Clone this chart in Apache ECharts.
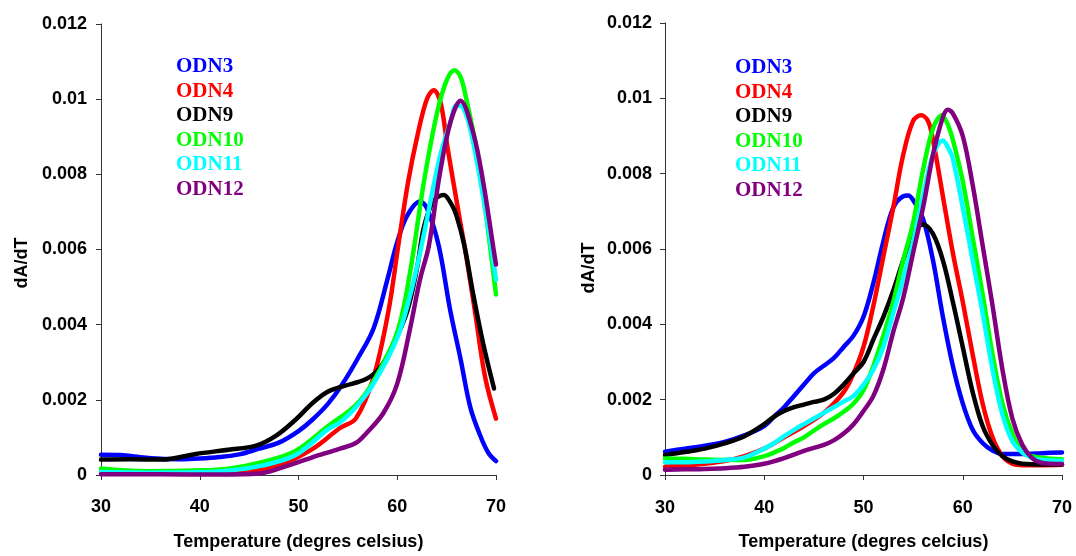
<!DOCTYPE html>
<html>
<head>
<meta charset="utf-8">
<script src="https://cdn.jsdelivr.net/npm/echarts@6/dist/echarts.min.js"></script>
<style>
html,body{margin:0;padding:0;background:#fff;}
#chart{width:1076px;height:556px;}
</style>
</head>
<body>
<div id="chart"></div>
<script>
// ---------- DATA ----------
const seriesNames = ['ODN3', 'ODN4', 'ODN9', 'ODN10', 'ODN11', 'ODN12'];
const seriesColors = ['#0000ff', '#ff0000', '#000000', '#00ff00', '#00ffff', '#800080'];
const xTickLabels = ['30', '40', '50', '60', '70'];
const yTickLabels = ['0', '0.002', '0.004', '0.006', '0.008', '0.01', '0.012'];
const leftXTitle = 'Temperature (degres celsius)';
const rightXTitle = 'Temperature (degres celcius)';
const yTitle = 'dA/dT';

// Left panel: [temperature, dA/dT]
const L_ODN3 = [[30,0.00054],[32,0.00053],[34,0.00047],[36,0.00043],[38,0.00042],[40,0.00044],[42,0.00048],[44,0.00055],[46,0.0007],[48,0.00086],[50,0.00117],[51.4,0.00147],[53,0.0019],[54.4,0.0024],[56,0.0031],[57.6,0.0039],[59,0.0052],[60,0.0062],[61,0.0069],[62.3,0.00728],[63,0.0071],[64.2,0.0061],[65.35,0.0044],[66.4,0.0031],[67.4,0.0018],[68.4,0.00105],[69.2,0.0006],[70,0.00037]];
const L_ODN4 = [[30,0.00005],[36,0.00003],[42,0.00003],[44.6,0.00008],[48,0.00026],[51.4,0.00069],[54.2,0.00125],[55.8,0.0015],[57.6,0.0026],[59.1,0.00435],[60.1,0.0061],[61.1,0.0078],[62.1,0.0091],[63,0.0100],[63.7,0.01024],[64.4,0.0099],[65.1,0.0087],[66.2,0.0070],[67,0.0058],[67.9,0.0043],[68.9,0.0026],[70,0.0015]];
const L_ODN9 = [[30,0.00041],[33,0.00042],[36.2,0.00041],[39.6,0.00056],[42.9,0.00067],[45.7,0.00078],[47.7,0.00104],[49.7,0.00147],[51.4,0.00191],[53,0.00222],[54.5,0.00236],[56.9,0.00256],[58.3,0.00287],[59.6,0.00348],[61,0.00435],[62,0.0055],[62.7,0.0066],[63.7,0.0073],[64.7,0.00745],[65.5,0.0072],[66,0.0069],[66.8,0.0061],[67.7,0.0048],[68.7,0.0035],[69.8,0.0023]];
const L_ODN10 = [[30,0.00017],[34.5,0.0001],[39.6,0.00012],[42.9,0.00017],[46.3,0.00034],[49.7,0.00064],[53,0.0013],[55.8,0.00186],[57.6,0.0025],[60,0.0038],[61.3,0.0054],[62.7,0.0078],[64,0.0096],[65,0.0105],[65.8,0.01077],[66.4,0.0106],[67,0.0100],[68,0.0087],[69,0.0069],[70,0.0048]];
const L_ODN11 = [[30,0.00008],[35,0.00006],[39.6,0.00007],[43,0.00012],[46.3,0.00025],[49.7,0.00053],[53,0.00122],[54.2,0.0014],[55.8,0.0018],[57.6,0.00243],[60,0.00365],[61.3,0.00478],[62.3,0.0059],[63,0.0068],[64.3,0.00845],[65.4,0.0094],[66,0.00984],[66.6,0.0098],[67.4,0.0092],[68.7,0.0074],[70,0.0052]];
const L_ODN12 = [[30,0.00002],[36,0.00002],[42,0.00001],[46,0.00004],[48,0.00017],[51.4,0.00047],[54.2,0.0007],[55.8,0.00085],[56.9,0.00112],[58.6,0.00165],[60,0.00243],[61.3,0.0039],[62.3,0.0052],[63.2,0.0061],[64.3,0.008],[65.4,0.0094],[66.4,0.00996],[67.7,0.0091],[68.7,0.0078],[69.7,0.0061],[70,0.0056]];

// Right panel: [temperature, dA/dT]
const R_ODN3 = [[30,0.00062],[32,0.0007],[34,0.00078],[36,0.00088],[38,0.00105],[40,0.0013],[41,0.00155],[42,0.0018],[43,0.0021],[44,0.0024],[45,0.0027],[46,0.0029],[47,0.0031],[48,0.0034],[49,0.0037],[50,0.0042],[51,0.0051],[52,0.0062],[53,0.0071],[54,0.0074],[54.5,0.00742],[55,0.0073],[56,0.0068],[57,0.0057],[58,0.0042],[59,0.0029],[60,0.0019],[61,0.0012],[62,0.00085],[63,0.00065],[64,0.00056],[66,0.00056],[68,0.00058],[70,0.0006]];
const R_ODN4 = [[30,0.00022],[32,0.00025],[34,0.0003],[36,0.00037],[38,0.0005],[40,0.0007],[42,0.001],[44,0.0013],[46,0.00165],[48,0.0022],[49,0.0027],[50,0.0034],[51,0.0045],[52,0.0058],[53,0.0071],[54,0.0085],[55,0.0094],[55.8,0.00955],[56.5,0.0094],[57,0.0089],[58,0.0074],[59,0.0059],[60,0.0046],[61,0.0032],[62,0.0019],[63,0.001],[64,0.0005],[65,0.0003],[66,0.00026],[68,0.00026],[70,0.00027]];
const R_ODN9 = [[30,0.00053],[32,0.00061],[34,0.0007],[36,0.00084],[38,0.00103],[40,0.00135],[41,0.00155],[42,0.0017],[43,0.0018],[44,0.00187],[45,0.00194],[46,0.002],[47,0.00215],[48,0.0024],[49,0.0027],[50,0.003],[51,0.0036],[52,0.0042],[53,0.0049],[54,0.0057],[55,0.0064],[56,0.00665],[57,0.0064],[58,0.0057],[59,0.0046],[60,0.0034],[61,0.0022],[62,0.0013],[63,0.0008],[64,0.0005],[65,0.00036],[66,0.0003],[68,0.00028],[70,0.00028]];
const R_ODN10 = [[30,0.00044],[32,0.00043],[34,0.00041],[36,0.0004],[38,0.0004],[40,0.0005],[41,0.0006],[42,0.00072],[43,0.00087],[44,0.001],[45,0.00118],[46,0.00135],[47,0.0015],[48,0.00168],[49,0.0019],[50,0.00225],[51,0.0029],[52,0.0037],[53,0.0046],[54,0.0057],[55,0.0067],[56,0.0081],[57,0.0092],[57.9,0.00955],[58.5,0.0093],[59,0.0089],[60,0.0078],[61,0.0063],[62,0.0048],[63,0.0032],[64,0.0019],[65,0.0011],[66,0.0006],[67,0.0005],[68,0.00045],[70,0.00042]];
const R_ODN11 = [[30,0.00034],[32,0.00034],[34,0.00036],[36,0.0004],[38,0.00047],[40,0.0007],[41,0.00085],[42,0.00103],[43,0.0012],[44,0.00135],[45,0.0015],[46,0.00165],[47,0.0018],[48,0.00195],[49,0.0021],[50,0.0024],[51,0.0028],[52,0.0034],[53,0.0043],[54,0.0052],[55,0.0062],[56,0.0074],[57,0.0085],[58,0.00888],[58.5,0.0087],[59,0.0084],[60,0.0071],[61,0.0057],[62,0.0043],[63,0.0028],[64,0.0016],[65,0.0009],[66,0.0006],[67,0.00045],[68,0.0004],[70,0.00038]];
const R_ODN12 = [[30,0.00014],[32,0.00015],[34,0.00016],[36,0.00018],[38,0.00022],[40,0.0003],[42,0.00045],[44,0.00064],[46,0.0008],[47,0.00092],[48,0.0011],[49,0.00135],[50,0.0017],[51,0.0021],[52,0.0028],[53,0.0038],[54,0.0047],[55,0.0059],[56,0.0071],[57,0.0085],[58,0.0095],[58.5,0.0097],[59,0.0096],[60,0.0090],[61,0.0077],[62,0.0061],[63,0.0045],[64,0.0028],[65,0.0015],[66,0.0008],[67,0.00045],[68,0.00032],[70,0.00029]];

const leftData = [L_ODN3, L_ODN4, L_ODN9, L_ODN10, L_ODN11, L_ODN12];
const rightData = [R_ODN3, R_ODN4, R_ODN9, R_ODN10, R_ODN11, R_ODN12];

// ---------- CHART ----------
const sansBold = {fontFamily: 'Liberation Sans, Arial, sans-serif', fontWeight: 'bold', fontSize: 18, color: '#000'};
const axisLineStyle = {color: '#333', width: 1};

function xAxisFor(gridIndex, title, nameGap, labelMargin) {
  return {
    type: 'value', gridIndex: gridIndex, min: 30, max: 70, interval: 10,
    axisLine: {show: true, onZero: false, lineStyle: axisLineStyle},
    axisTick: {show: true, inside: false, length: 5, lineStyle: axisLineStyle},
    splitLine: {show: false},
    axisLabel: Object.assign({margin: labelMargin, formatter: function (v) { return xTickLabels[Math.round((v - 30) / 10)]; }}, sansBold),
    name: title, nameLocation: 'middle', nameGap: nameGap,
    nameTextStyle: Object.assign({}, sansBold)
  };
}
function yAxisFor(gridIndex, labelMargin) {
  return {
    type: 'value', gridIndex: gridIndex, min: 0, max: 0.012, interval: 0.002,
    axisLine: {show: true, lineStyle: axisLineStyle},
    axisTick: {show: true, inside: false, length: 5, lineStyle: axisLineStyle},
    splitLine: {show: false},
    axisLabel: Object.assign({margin: labelMargin, formatter: function (v) { return yTickLabels[Math.round(v / 0.002)]; }}, sansBold)
  };
}
function legendFor(left, top) {
  return {
    left: left, top: top, orient: 'vertical', icon: 'none', itemWidth: 0, itemHeight: 20, itemGap: 3.6,
    selectedMode: false,
    data: seriesNames.map(function (n, i) {
      return {name: n, textStyle: {color: seriesColors[i]}};
    }),
    textStyle: {fontFamily: 'Liberation Serif, Times New Roman, serif', fontWeight: 'bold', fontSize: 21, padding: 0}
  };
}

const series = [];
[leftData, rightData].forEach(function (panel, gi) {
  panel.forEach(function (d, i) {
    series.push({
      name: seriesNames[i], type: 'line', xAxisIndex: gi, yAxisIndex: gi,
      data: d, smooth: 0.35, showSymbol: false, symbol: 'none',
      lineStyle: {color: seriesColors[i], width: 4.5, cap: 'round', join: 'round'},
      itemStyle: {color: seriesColors[i]},
      animation: false, z: 2 + i
    });
  });
});

const chart = echarts.init(document.getElementById('chart'));
chart.setOption({
  backgroundColor: '#ffffff',
  animation: false,
  grid: [
    {left: 101, top: 24, width: 395, height: 459},
    {left: 665, top: 23, width: 397, height: 466}
  ],
  xAxis: [xAxisFor(0, leftXTitle, 58, 23), xAxisFor(1, rightXTitle, 58, 24)],
  yAxis: [yAxisFor(0, 14), yAxisFor(1, 13)],
  legend: [legendFor(166, 51), legendFor(725, 52)],
  graphic: [
    {type: 'text', rotation: Math.PI / 2, position: [22, 263], style: {text: yTitle, textAlign: 'center', textVerticalAlign: 'middle', font: 'bold 18px "Liberation Sans", Arial, sans-serif', fill: '#000'}},
    {type: 'text', rotation: Math.PI / 2, position: [589, 268], style: {text: yTitle, textAlign: 'center', textVerticalAlign: 'middle', font: 'bold 18px "Liberation Sans", Arial, sans-serif', fill: '#000'}}
  ],
  series: series
});
</script>
</body>
</html>
